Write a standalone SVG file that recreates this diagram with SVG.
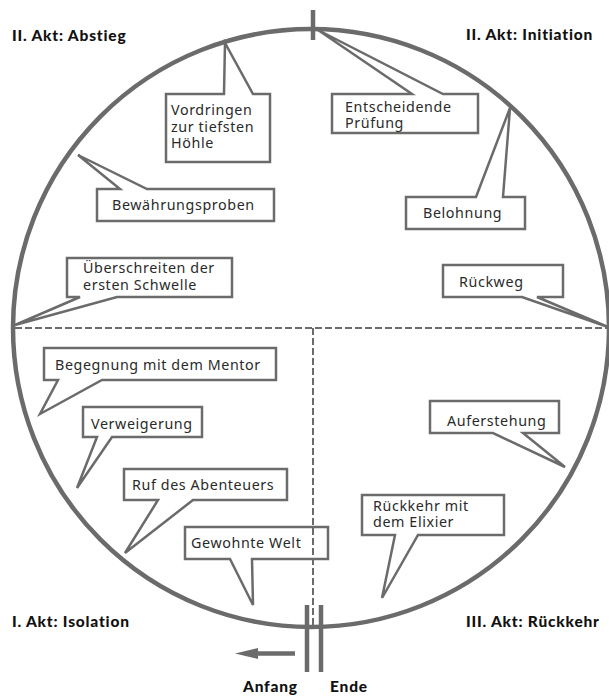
<svg xmlns="http://www.w3.org/2000/svg" width="609" height="697" viewBox="0 0 609 697">
<style>
.bg{fill:#fff}
.ring{fill:none;stroke:#6b6b6b;stroke-width:4.5}
.dash{fill:none;stroke:#6b6b6b;stroke-width:2;stroke-dasharray:7 3}
.bar{stroke:#6b6b6b;stroke-width:4.5}
.box{fill:#fff;stroke:#6b6b6b;stroke-width:2.5;stroke-linejoin:miter}
.t{font-family:"Noto Sans","Open Sans",sans-serif;font-size:14.3px;fill:#2a2a2a;letter-spacing:0.6px}
.h{font-family:Lato,"Liberation Sans",sans-serif;font-size:15.5px;font-weight:900;fill:#111;letter-spacing:0.8px}
</style>
<rect class="bg" x="0" y="0" width="609" height="697"/>
<g id="connectors">
<ellipse class="ring" cx="311" cy="328" rx="298" ry="299"/>
<line class="bar" x1="313" y1="10" x2="313" y2="40"/>
<line class="bar" x1="307" y1="605" x2="307" y2="672"/>
<line class="bar" x1="321" y1="605" x2="321" y2="672"/>
<line class="bar" x1="295" y1="653.5" x2="250" y2="653.5"/>
<polygon points="235,653.5 258,648 258,659" fill="#6b6b6b"/>
</g>
<g id="n-hoehle"><path class="box" d="M166,94 L224,94 L225,43 L253,94 L270,94 L270,162 L166,162 Z"/><text class="t" x="171" y="115">Vordringen<tspan x="171" dy="17">zur tiefsten</tspan><tspan x="171" dy="16">Höhle</tspan></text></g>
<g id="n-pruefung"><path class="box" d="M332,94 L412,94 L318,30 L443,94 L478,94 L478,133 L332,133 Z"/><text class="t" x="345" y="112">Entscheidende<tspan x="345" dy="16">Prüfung</tspan></text></g>
<g id="n-belohnung"><path class="box" d="M406,197 L476,197 L510,108 L503,197 L525,197 L525,229 L406,229 Z"/><text class="t" x="423" y="218">Belohnung</text></g>
<g id="n-bewaehrung"><path class="box" d="M97,189 L120,189 L78,155 L147,189 L274,189 L274,221 L97,221 Z"/><text class="t" x="112" y="210">Bewährungsproben</text></g>
<g id="n-schwelle"><path class="box" d="M67,258 L232,258 L232,297 L117,297 L15,325 L80,297 L67,297 Z"/><text class="t" x="83" y="273">Überschreiten der<tspan x="83" dy="17">ersten Schwelle</tspan></text></g>
<g id="n-rueckweg"><path class="box" d="M443,265 L563,265 L563,297 L537,297 L608,327 L522,297 L443,297 Z"/><text class="t" x="459" y="287">Rückweg</text></g>
<g id="n-mentor"><path class="box" d="M44,348 L276,348 L276,380 L102,380 L40,414 L58,380 L44,380 Z"/><text class="t" x="55" y="370">Begegnung mit dem Mentor</text></g>
<g id="n-verweigerung"><path class="box" d="M83,407 L202,407 L202,437 L112,437 L77,488 L97,437 L83,437 Z"/><text class="t" x="91" y="429">Verweigerung</text></g>
<g id="n-ruf"><path class="box" d="M124,469 L287,469 L287,500 L193,500 L125,553 L158,500 L124,500 Z"/><text class="t" x="132" y="490">Ruf des Abenteuers</text></g>
<g id="n-welt"><path class="box" d="M185,527 L328,527 L328,559 L252,559 L253,605 L230,559 L185,559 Z"/><text class="t" x="191" y="548">Gewohnte Welt</text></g>
<g id="n-elixier"><path class="box" d="M362,495 L504,495 L504,535 L418,535 L382,598 L395,535 L362,535 Z"/><text class="t" x="373" y="511">Rückkehr mit<tspan x="373" dy="16">dem Elixier</tspan></text></g>
<g id="n-auferstehung"><path class="box" d="M430,401 L559,401 L559,433 L523,433 L565,467 L493,433 L430,433 Z"/><text class="t" x="447" y="426">Auferstehung</text></g>
<g id="dividers">
<line class="dash" x1="15" y1="328" x2="607" y2="328"/>
<line class="dash" x1="313" y1="328" x2="313" y2="627"/>
</g>
<g id="labels">
<text class="h" x="12" y="41">II. Akt: Abstieg</text>
<text class="h" x="466" y="40">II. Akt: Initiation</text>
<text class="h" x="12" y="627">I. Akt: Isolation</text>
<text class="h" x="466" y="627">III. Akt: Rückkehr</text>
<text class="h" x="243" y="692">Anfang</text>
<text class="h" x="330" y="692">Ende</text>
</g>
</svg>
